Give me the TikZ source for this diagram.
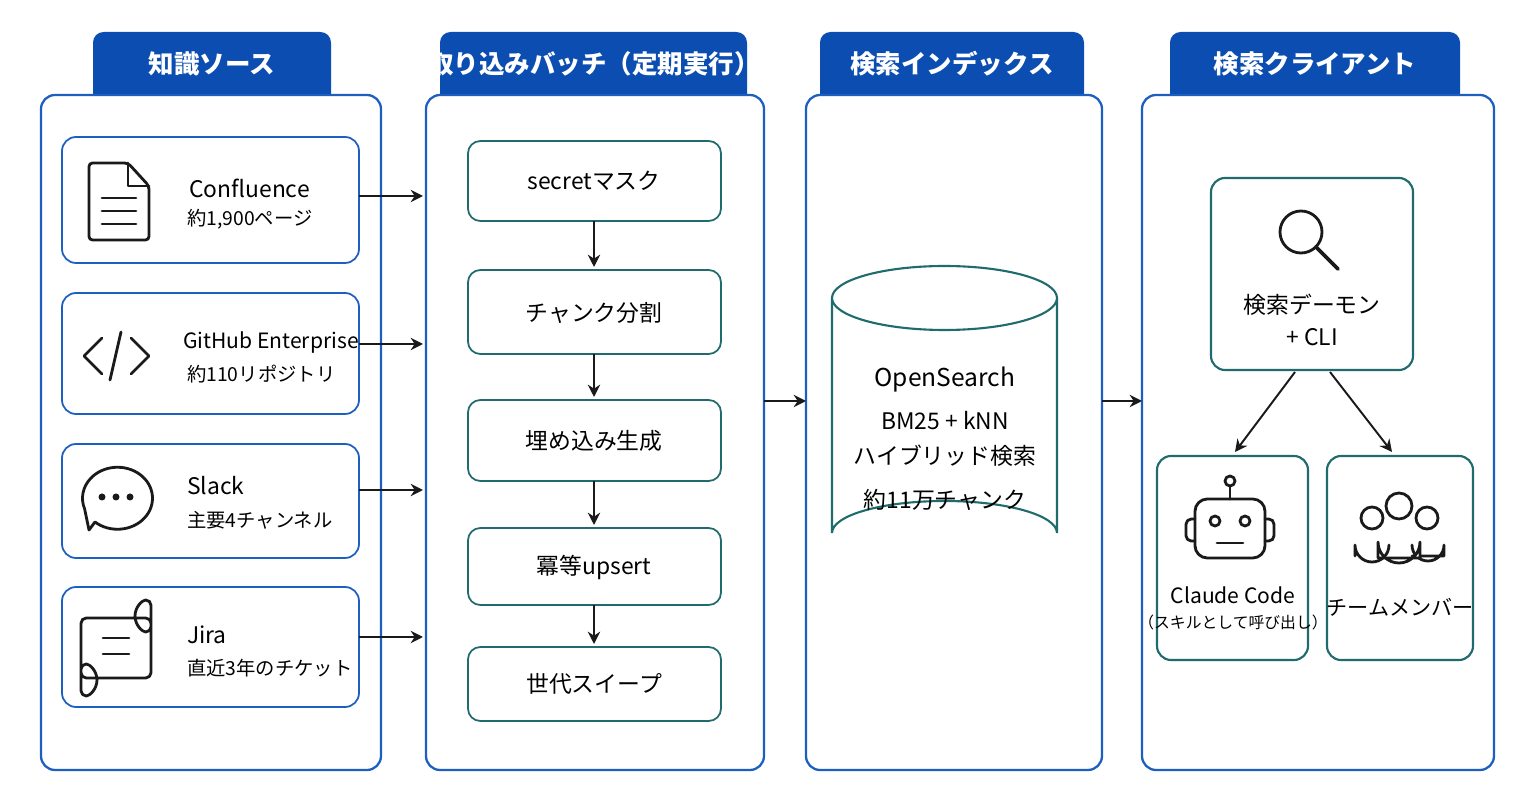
\documentclass[tikz,border=0pt]{standalone}
\usepackage{fontspec}
\setmainfont{Noto Sans CJK JP}
\usetikzlibrary{arrows.meta,shapes.geometric}
\definecolor{tabblue}{HTML}{0B4DB0}
\definecolor{panelblue}{HTML}{1D5FC0}
\definecolor{stepteal}{HTML}{1F6B6E}
\definecolor{iconink}{HTML}{1A1A1A}
\tikzset{
  panel/.style={draw=panelblue, line width=1.3pt, rounded corners=8pt},
  tabbox/.style={fill=tabblue, rounded corners=6pt},
  tabtext/.style={text=white, font=\fontsize{14.5}{16}\selectfont\bfseries},
  srcbox/.style={draw=panelblue, line width=1pt, rounded corners=8pt, fill=white},
  stepbox/.style={draw=stepteal, line width=1pt, rounded corners=7pt, fill=white},
  clientbox/.style={draw=stepteal, line width=1.2pt, rounded corners=8pt, fill=white},
  flow/.style={-{Stealth[length=7pt,width=7pt]}, line width=1.1pt, iconink},
  icon/.style={draw=iconink, line width=1.6pt, line cap=round, line join=round},
  big/.style={font=\fontsize{13}{15}\selectfont},
  small/.style={font=\fontsize{11}{13}\selectfont}
}
\begin{document}
\begin{tikzpicture}[x=0.02cm, y=-0.02cm]
  \useasboundingbox (0,0) rectangle (1536,803);

  % column tabs
  \fill[tabbox] (93,32) rectangle (331,105);
  \fill[tabbox] (440,32) rectangle (747,105);
  \fill[tabbox] (820,32) rectangle (1084,105);
  \fill[tabbox] (1170,32) rectangle (1460,105);
  \node[tabtext] (t1) at (212,64) {知識ソース};
  \node[tabtext] (t2) at (594,64) {取り込みバッチ（定期実行）};
  \node[tabtext] (t3) at (952,64) {検索インデックス};
  \node[tabtext] (t4) at (1315,64) {検索クライアント};

  % panels
  \draw[panel, fill=white] (41,95) rectangle (381,770);
  \draw[panel, fill=white] (426,95) rectangle (764,770);
  \draw[panel, fill=white] (806,95) rectangle (1102,770);
  \draw[panel, fill=white] (1142,95) rectangle (1494,770);
  \coordinate (p1) at (381,401);
  \coordinate (p2in) at (426,401);
  \coordinate (p2) at (764,401);
  \coordinate (p3in) at (806,401);
  \coordinate (p3) at (1102,401);
  \coordinate (p4in) at (1142,401);

  % sources
  \draw[srcbox] (62,137) rectangle (359,263);
  \draw[srcbox] (62,293) rectangle (359,414);
  \draw[srcbox] (62,444) rectangle (359,558);
  \draw[srcbox] (62,587) rectangle (359,707);
  \node[big, anchor=west] (conf) at (183,188) {Confluence};
  \node[small, anchor=west] (confn) at (181,219) {約1,900ページ};
  \node[big, anchor=west, font=\fontsize{12}{14}\selectfont] (gh) at (177,343) {GitHub Enterprise};
  \node[small, anchor=west] (ghn) at (181,374) {約110リポジトリ};
  \node[big, anchor=west] (slack) at (181,486) {Slack};
  \node[small, anchor=west] (slackn) at (181,520) {主要4チャンネル};
  \node[big, anchor=west] (jira) at (181,635) {Jira};
  \node[small, anchor=west] (jiran) at (181,668) {直近3年のチケット};
  \coordinate (s1) at (359,196); \coordinate (s1in) at (423,196);
  \coordinate (s2) at (359,344); \coordinate (s2in) at (423,344);
  \coordinate (s3) at (359,490); \coordinate (s3in) at (423,490);
  \coordinate (s4) at (359,637); \coordinate (s4in) at (423,637);
  \draw[flow] (s1) -- (s1in);
  \draw[flow] (s2) -- (s2in);
  \draw[flow] (s3) -- (s3in);
  \draw[flow] (s4) -- (s4in);

  % icons
  \draw[icon, rounded corners=2pt] (89,163) -- (128,163) -- (149,186) -- (149,240) -- (89,240) -- cycle;
  \draw[icon] (128,163) -- (128,186) -- (149,186);
  \draw[icon] (102,198) -- (136,198) (102,211) -- (136,211) (102,224) -- (136,224);
  \draw[icon] (102,338) -- (84,356) -- (102,374);
  \draw[icon] (131,338) -- (149,356) -- (131,374);
  \draw[icon] (121,332) -- (110,380);
  \draw[icon] (95,522) arc[start angle=130, end angle=-200, x radius=35, y radius=31] -- (89,530) -- cycle;
  \fill[iconink] (102,497) circle (3.5) (116,497) circle (3.5) (130,497) circle (3.5);
  \draw[icon, rounded corners=3pt] (81,618) -- (151,618) -- (151,632)
    arc[start angle=90, end angle=270, radius=16] -- (151,678) -- (81,678) -- (81,664)
    arc[start angle=-90, end angle=90, radius=16] -- cycle;
  \draw[icon] (103,638) -- (129,638) (103,654) -- (129,654);

  % ingestion steps
  \draw[stepbox] (468,141) rectangle (721,221);
  \draw[stepbox] (468,270) rectangle (721,354);
  \draw[stepbox] (468,400) rectangle (721,481);
  \draw[stepbox] (468,528) rectangle (721,605);
  \draw[stepbox] (468,647) rectangle (721,721);
  \node[big] (mask) at (594,181) {secretマスク};
  \node[big] (chunk) at (594,313) {チャンク分割};
  \node[big] (embed) at (594,441) {埋め込み生成};
  \node[big] (upsert) at (594,567) {冪等upsert};
  \node[big] (sweep) at (594,684) {世代スイープ};
  \draw[flow] (594,221) -- (594,267);
  \draw[flow] (594,354) -- (594,397);
  \draw[flow] (594,481) -- (594,525);
  \draw[flow] (594,605) -- (594,644);

  \draw[flow] (p2) -- (p3in);
  \draw[flow] (p3) -- (p4in);

  % index cylinder
  \draw[stepteal, line width=1.2pt, fill=white] (832,298) -- (832,533)
    arc[start angle=180, end angle=360, x radius=112.5, y radius=32] -- (1057,298);
  \draw[stepteal, line width=1.2pt, fill=white] (944.5,298) ellipse[x radius=112.5, y radius=32];
  \node[big, font=\fontsize{14}{16}\selectfont] (os) at (945,380) {OpenSearch};
  \node[big] (bm) at (945,421) {BM25 + kNN};
  \node[big] (hyb) at (945,456) {ハイブリッド検索};
  \node[big] (cnt) at (945,500) {約11万チャンク};

  % clients
  \draw[clientbox] (1211,178) rectangle (1413,370);
  \draw[icon] (1301,232) circle (21);
  \draw[icon, line width=2.2pt] (1316,247) -- (1338,269);
  \node[big] (daemon) at (1312,305) {検索デーモン};
  \node[big] (cli) at (1312,337) {+ CLI};
  \draw[clientbox] (1157,456) rectangle (1308,660);
  \draw[clientbox] (1327,456) rectangle (1473,660);
  \coordinate (d1) at (1295,372); \coordinate (c1) at (1235,452);
  \coordinate (d2) at (1330,372); \coordinate (c2) at (1392,452);
  \draw[flow] (d1) -- (c1);
  \draw[flow] (d2) -- (c2);

  \draw[icon, rounded corners=7pt] (1195,499) rectangle (1265,558);
  \draw[icon, rounded corners=3pt] (1195,519) -- (1186,519) -- (1186,541) -- (1195,541);
  \draw[icon, rounded corners=3pt] (1265,519) -- (1274,519) -- (1274,541) -- (1265,541);
  \draw[icon] (1230,499) -- (1230,487);
  \draw[icon] (1230,481) circle (5);
  \draw[icon] (1215,521) circle (5) (1245,521) circle (5);
  \draw[icon] (1217,543) -- (1243,543);
  \node[big, font=\fontsize{12}{14}\selectfont] (claude) at (1233,595) {Claude Code};
  \node[small, font=\fontsize{9}{11}\selectfont] (skill) at (1233,622) {（スキルとして呼び出し）};

  \draw[icon] (1372,518) circle (11) (1427,518) circle (11) (1399,506) circle (13);
  \draw[icon] (1355,556) -- (1355,545) arc[start angle=180, end angle=0, radius=17] ;
  \draw[icon] (1412,545) arc[start angle=180, end angle=0, radius=16] -- (1444,556) -- (1412,556);
  \draw[icon, fill=white] (1378,558) -- (1378,542) arc[start angle=180, end angle=0, radius=21] -- (1420,558) -- cycle;
  \node[big, font=\fontsize{12}{14}\selectfont] (team) at (1400,607) {チームメンバー};
\end{tikzpicture}
\end{document}
